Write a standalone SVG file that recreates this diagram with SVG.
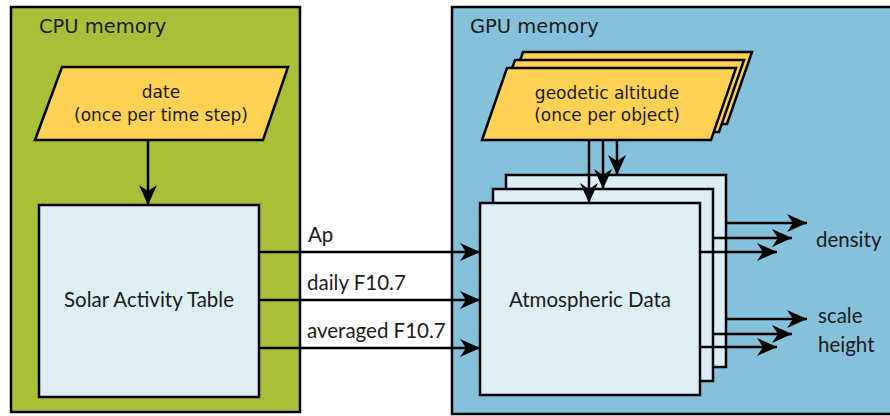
<svg xmlns="http://www.w3.org/2000/svg" width="890" height="416" viewBox="0 0 890 416">
<style>
.frame{stroke:#000;stroke-width:2.5}
.box{fill:#deeef5;stroke:#000;stroke-width:2.5}
.para{fill:#ffd254;stroke:#000;stroke-width:2.5;stroke-linejoin:miter}
.dv{font-family:"DejaVu Sans",sans-serif;fill:#1a1a1a}
.lt{font-family:Lato,"Liberation Sans",sans-serif;fill:#1a1a1a;font-size:20.5px}
.line{stroke:#000;stroke-width:2.5;fill:none}
</style>
<defs>
<marker id="ah" markerUnits="userSpaceOnUse" markerWidth="24" markerHeight="24" viewBox="-22 -11 24 22" refX="0" refY="0" orient="auto">
<path d="M0,0 L-20,-9 L-14,0 L-20,9 Z" fill="#000"/>
</marker>
</defs>
<rect x="0" y="0" width="890" height="416" fill="#fff"/>
<g id="cpu">
<rect class="frame" x="11" y="7" width="289" height="405" fill="#aabf38"/>
<text class="dv" x="39" y="33" font-size="19.5">CPU memory</text>
</g>
<g id="gpu">
<rect class="frame" x="452" y="7" width="445" height="407" fill="#85c1da"/>
<text class="dv" x="470" y="33" font-size="19.5">GPU memory</text>
</g>
<g id="date">
<polygon class="para" points="62,67 288,67 263,140 35,140"/>
<text class="dv" x="161" y="98" font-size="17" text-anchor="middle">date</text>
<text class="dv" x="161" y="121" font-size="17" text-anchor="middle">(once per time step)</text>
</g>
<g id="solar">
<rect class="box" x="39" y="205" width="220" height="192"/>
<text class="lt" x="149" y="307" text-anchor="middle">Solar Activity Table</text>
</g>
<g id="altitude">
<polygon class="para" points="523,52 752,52 727,124 498,124"/>
<polygon class="para" points="515,60 744,60 719,132 490,132"/>
<polygon class="para" points="507,68 736,68 711,140 482,140"/>
<text class="dv" x="607" y="99" font-size="17" text-anchor="middle">geodetic altitude</text>
<text class="dv" x="607" y="121" font-size="17" text-anchor="middle">(once per object)</text>
</g>
<g id="atmos">
<rect class="box" x="506" y="175" width="220" height="192"/>
<rect class="box" x="493" y="189" width="220" height="192"/>
<rect class="box" x="480" y="203" width="220" height="192"/>
<text class="lt" x="590" y="307" text-anchor="middle">Atmospheric Data</text>
</g>
<g id="connectors">
<line class="line" x1="148" y1="140" x2="148" y2="205" marker-end="url(#ah)"/>
<line class="line" x1="589" y1="141" x2="589" y2="203" marker-end="url(#ah)"/>
<line class="line" x1="603" y1="141" x2="603" y2="189" marker-end="url(#ah)"/>
<line class="line" x1="617" y1="141" x2="617" y2="175" marker-end="url(#ah)"/>
<line class="line" x1="259" y1="252" x2="480" y2="252" marker-end="url(#ah)"/>
<line class="line" x1="259" y1="300" x2="480" y2="300" marker-end="url(#ah)"/>
<line class="line" x1="259" y1="348" x2="480" y2="348" marker-end="url(#ah)"/>
<line class="line" x1="726" y1="223" x2="807" y2="223" marker-end="url(#ah)"/>
<line class="line" x1="713" y1="238" x2="792" y2="238" marker-end="url(#ah)"/>
<line class="line" x1="700" y1="252" x2="777" y2="252" marker-end="url(#ah)"/>
<line class="line" x1="726" y1="319" x2="807" y2="319" marker-end="url(#ah)"/>
<line class="line" x1="713" y1="334" x2="792" y2="334" marker-end="url(#ah)"/>
<line class="line" x1="700" y1="347" x2="777" y2="347" marker-end="url(#ah)"/>
</g>
<g id="labels">
<text class="lt" x="308" y="242">Ap</text>
<text class="lt" x="307" y="290">daily F10.7</text>
<text class="lt" x="307" y="338">averaged F10.7</text>
<text class="lt" x="816" y="247">density</text>
<text class="lt" x="818" y="323">scale</text>
<text class="lt" x="818" y="352">height</text>
</g>
</svg>
